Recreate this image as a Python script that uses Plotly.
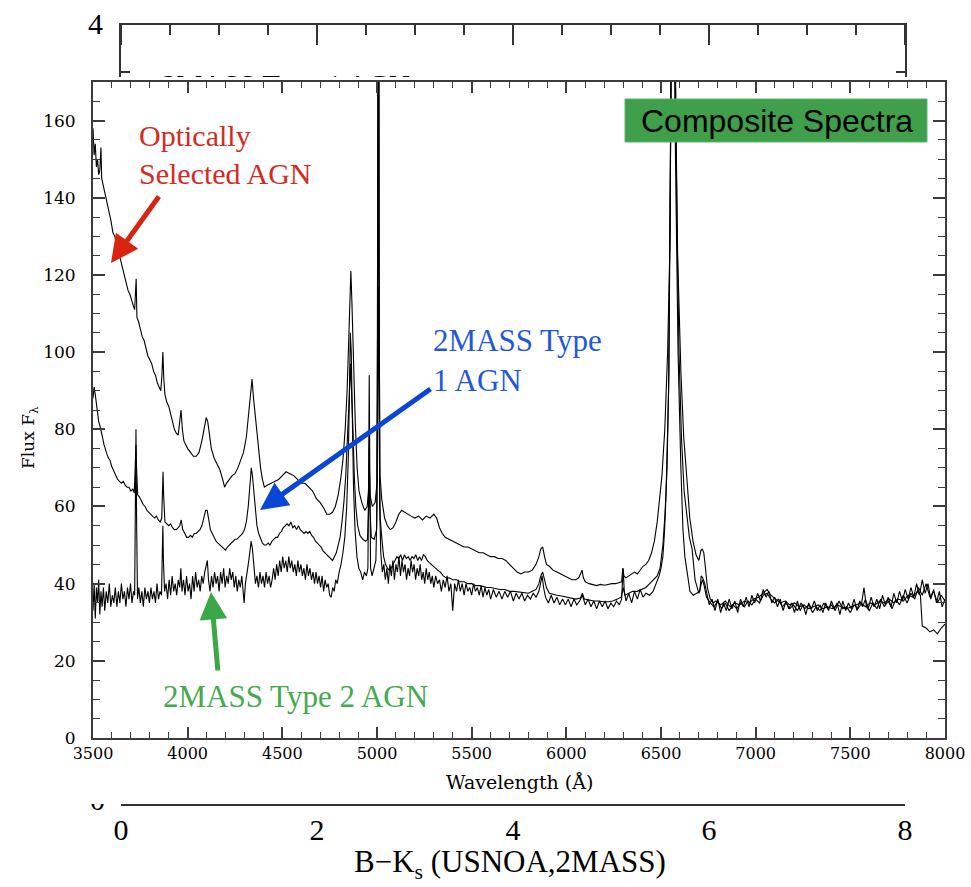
import plotly.graph_objects as go

# ---------------- data ----------------
qso_points = [
    (3500,158),(3506,151),(3512,154),(3518,148),(3524,150),(3530,146),(3536,147),(3542,153),(3546,145),
    (3555,143),(3565,141),(3575,139),(3585,136),(3595,134),(3605,131),(3615,130),(3625,128),(3635,126),
    (3645,124),(3655,122),(3665,120),(3675,118),(3685,116),(3695,115),(3705,113),(3713,112),(3720,111),
    (3724,118),(3728,119),(3732,109),(3740,108),(3750,106),(3760,104),(3770,103),(3780,101),(3790,99),
    (3800,98),(3810,97),(3820,95),(3830,94),(3840,92),(3850,91),(3858,90),(3864,94),(3869,100),(3874,93),
    (3880,89),(3890,87),(3900,86),(3910,84),(3920,82),(3930,80),(3940,79),(3950,78.5),(3958,82),(3965,85),
    (3972,80),(3980,77),(3990,76),(4000,75),(4015,74),(4030,73),(4045,73),(4060,74),(4075,77),(4088,80),
    (4098,83),(4106,82),(4115,78),(4125,75),(4140,72.5),(4155,71),(4170,69.5),(4185,67),(4195,65),(4205,66),
    (4220,67),(4235,68),(4250,68.5),(4265,70),(4280,72),(4295,74),(4310,78),(4322,84),(4332,90),(4340,93),
    (4348,88),(4356,84),(4365,78),(4375,73),(4385,70),(4395,67),(4405,65),(4420,65.5),(4440,66),(4460,66.5),
    (4480,67),(4500,68),(4520,69),(4540,68.5),(4560,68),(4580,67),(4600,66),(4620,66),(4640,65),(4660,64),
    (4680,62),(4700,61),(4720,59.5),(4735,58),(4750,58),(4765,58.5),(4780,60),(4795,63),(4808,67),(4820,72),
    (4832,80),(4842,90),(4850,102),(4856,112),(4862,121),(4868,112),(4875,98),(4885,82),(4895,70),(4905,64),
    (4920,61),(4935,59),(4948,60),(4955,64),(4959,72),(4963,63),(4975,60),(4990,61),(5000,66),(5004,120),
    (5007,300),(5010,120),(5016,68),(5025,62),(5040,57),(5055,55),(5070,54),(5085,54.5),(5100,56),(5115,58),
    (5130,59),(5145,58.5),(5160,58),(5180,57.5),(5200,57),(5220,57.5),(5240,56.5),(5260,57.5),(5280,57),
    (5300,58),(5315,57),(5330,54.5),(5345,53),(5360,52),(5380,51.5),(5400,51),(5420,50.5),(5440,50),
    (5460,49.5),(5480,49.5),(5500,49),(5520,48.5),(5540,48),(5560,48),(5580,47.5),(5600,47),(5620,47),
    (5640,46.5),(5660,46.5),(5680,46),(5700,45),(5720,44),(5740,43),(5760,42.5),(5780,43),(5800,43),
    (5820,43.5),(5840,45),(5855,47),(5865,49),(5875,49.5),(5885,47),(5895,45),(5910,44.5),(5930,43.5),
    (5950,43),(5970,42.5),(5990,42),(6010,41.5),(6030,41),(6050,41),(6065,41.5),(6075,42.5),(6083,43.5),
    (6090,41.5),(6100,40.5),(6120,40),(6140,39.8),(6160,39.5),(6180,39.8),(6200,39.6),(6220,39.8),(6240,40),
    (6260,40),(6280,40.2),(6292,40.5),(6298,44),(6304,42),(6315,41.5),(6330,42),(6345,42.5),(6360,43),
    (6375,42.5),(6390,43.5),(6405,44.5),(6420,45),(6435,46),(6450,48),(6465,51),(6480,56),(6495,63),
    (6505,68),(6520,80),(6535,100),(6548,130),(6558,175),(6566,290),(6575,175),(6588,125),(6605,95),
    (6620,78),(6637,67),(6652,57),(6669,51),(6685,47.5),(6700,46),(6710,48.5),(6718,49),(6726,48),(6735,44),
    (6745,39),(6760,36),(6775,35),(6790,35.5),(6815,34.5),(6840,35.5),(6865,34),(6890,35),(6915,34.5),
    (6940,35.5),(6965,35),(6990,36),(7015,36.5),(7040,37.5),(7060,38.5),(7080,37),(7105,36),(7130,35),
    (7155,35.5),(7180,34.5),(7205,35),(7230,34),(7255,34.5),(7280,33.5),(7305,34),(7330,34.5),(7355,33.5),
    (7380,34),(7405,33.5),(7430,34.5),(7455,34),(7480,33.5),(7505,34),(7530,34.5),(7555,35),(7580,34),
    (7605,35),(7630,34.5),(7655,35.5),(7680,35),(7705,36),(7730,35),(7755,36),(7780,35.5),(7805,37),
    (7830,36.5),(7855,38),(7870,37),(7880,29),(7900,28.5),(7920,27.5),(7940,28),(7960,27),(7980,28.5),
    (8000,29.5),
]

type1_points = [
    (3500,88),(3506,91),(3512,89),(3518,86),(3524,84),(3530,82),(3536,81),(3542,80),(3550,78),(3558,76),
    (3566,74.5),(3574,73.5),(3582,72.5),(3590,72),(3598,70.5),(3606,69.5),(3614,69),(3622,67.5),(3630,67),
    (3640,66.5),(3650,66),(3660,66.5),(3670,65.5),(3680,65),(3690,65),(3700,64),(3710,64.5),(3718,63.5),
    (3724,70),(3727,76),(3730,70),(3736,63),(3745,62.5),(3755,61.5),(3765,60.5),(3775,60),(3785,59),
    (3795,58.5),(3805,58),(3815,57.5),(3825,57),(3835,57.5),(3845,56.5),(3855,56),(3863,57),(3867,64),
    (3870,69),(3873,63),(3880,56),(3890,55.5),(3900,55),(3910,55.5),(3920,54.5),(3930,54),(3940,54),
    (3950,54.5),(3958,55),(3966,56.5),(3974,54),(3985,53),(3995,52),(4005,52),(4015,52.5),(4025,52),
    (4035,53),(4045,53),(4055,53.5),(4065,54),(4075,55),(4085,57),(4095,59),(4103,59),(4110,56.5),
    (4120,54),(4130,53),(4140,52),(4150,51),(4160,50.5),(4170,50),(4180,49.5),(4190,49),(4200,48.7),
    (4210,49.5),(4220,50),(4230,50.5),(4240,51),(4250,51.5),(4260,51.5),(4270,52),(4280,52.5),(4290,53),
    (4300,54),(4310,56),(4320,60),(4328,65),(4336,70),(4342,68),(4350,63),(4358,58),(4366,55),(4375,53),
    (4385,51.5),(4395,50.5),(4405,50),(4415,50),(4425,50.5),(4435,50),(4445,51),(4455,51.5),(4465,52),
    (4475,52),(4485,53),(4495,53.5),(4505,54.5),(4515,55),(4525,55.5),(4535,55),(4545,56),(4555,54.5),
    (4565,55),(4575,54),(4585,55),(4595,54),(4605,53.5),(4615,53),(4625,53.5),(4635,53),(4645,53.5),
    (4655,52.5),(4665,52),(4675,51),(4685,50.5),(4695,50),(4705,49.5),(4715,48.5),(4725,48),(4735,47.5),
    (4745,47),(4755,46.5),(4765,46),(4775,47),(4785,48),(4795,50),(4805,52),(4815,56),(4825,61),(4835,68),
    (4845,78),(4853,88),(4860,97),(4866,90),(4873,80),(4880,68),(4888,60),(4898,55),(4910,52.5),(4925,51.5),
    (4940,51),(4950,51.5),(4956,60),(4959,76),(4962,60),(4970,52),(4985,51.5),(4998,54),(5003,80),(5007,117),
    (5011,80),(5017,57),(5025,52),(5035,47),(5045,45),(5055,44),(5065,43.5),(5075,44),(5085,45),(5095,46),
    (5105,47),(5115,46.5),(5125,47.5),(5135,46),(5145,47.5),(5155,46.5),(5165,47),(5175,46),(5185,47),
    (5195,46.5),(5205,47.5),(5215,46),(5225,47),(5235,46),(5245,47.5),(5255,47),(5265,46),(5275,45.5),
    (5285,45),(5295,44.5),(5305,44),(5320,43.5),(5335,43),(5350,42),(5365,41.5),(5380,41.5),(5400,41),
    (5420,41),(5440,40.5),(5460,40.5),(5480,40),(5500,40),(5520,39.5),(5540,39.5),(5560,39.3),(5580,39),
    (5600,39),(5625,38.8),(5650,38.5),(5675,38.5),(5700,38),(5725,38),(5750,37.8),(5775,37.6),(5800,37.5),
    (5820,38),(5840,38.5),(5855,40),(5865,42),(5875,43),(5885,41),(5895,39),(5910,37.5),(5930,37.2),
    (5950,37),(5975,36.8),(6000,36.5),(6025,36.3),(6050,36),(6075,36.3),(6085,37.5),(6095,36),(6120,35.8),
    (6145,35.5),(6170,35.5),(6195,35.3),(6220,35.3),(6245,35.5),(6270,36),(6290,36.5),(6300,39),(6310,37),
    (6330,37.5),(6350,38),(6375,38),(6400,38.5),(6420,39),(6440,40),(6460,41),(6480,42),(6495,44),(6510,50),
    (6521,58),(6532,70),(6542,95),(6552,140),(6560,200),(6566,270),(6574,185),(6584,135),(6595,100),
    (6608,78),(6622,64),(6637,58),(6650,52),(6664,49),(6680,41),(6700,37.5),(6710,40),(6718,41),(6728,39.5),
    (6740,36.5),(6760,35),(6780,34),(6800,35.5),(6820,33.5),(6840,35),(6860,33),(6880,34.5),(6900,33.5),
    (6920,35),(6940,34),(6960,35.5),(6980,34.5),(7000,36),(7020,35),(7040,37),(7060,37.5),(7080,36),
    (7100,35),(7120,36),(7140,34),(7160,35),(7180,33.5),(7200,34.5),(7220,33),(7240,35),(7260,33.5),
    (7280,34.5),(7300,32.5),(7320,34),(7340,33),(7360,35),(7380,33.5),(7400,34.5),(7420,33),(7440,35.5),
    (7460,33.5),(7480,34),(7500,32.5),(7520,34.5),(7540,33.5),(7560,35),(7572,39),(7585,34),(7600,33),
    (7620,35),(7640,33.5),(7660,36),(7680,34),(7700,35.5),(7720,33.5),(7740,36),(7760,34.5),(7780,37),
    (7800,35),(7820,37.5),(7840,36),(7860,39),(7880,37),(7900,40),(7920,36.5),(7940,38),(7960,35),
    (7980,37),(8000,35.5),
]

type2_points = [
    (3500,33),(3506,40),(3512,31),(3518,39),(3524,35),(3530,41),(3536,32),(3542,38),(3548,34),(3555,39),
    (3562,33),(3570,38),(3578,35),(3586,40),(3594,34),(3602,37),(3610,35),(3618,39),(3626,34),(3634,38),
    (3642,35),(3650,40),(3658,36),(3666,38),(3674,34),(3682,39),(3690,36),(3698,40),(3706,35),(3714,38),
    (3720,37),(3724,60),(3727,80),(3730,58),(3735,36),(3742,39),(3750,35),(3758,38),(3766,34),(3774,39),
    (3782,36),(3790,38),(3798,35),(3806,39),(3814,36),(3822,38),(3830,35),(3838,40),(3846,36),(3854,38),
    (3862,37),(3866,48),(3869,55),(3872,46),(3878,38),(3886,40),(3894,36),(3902,41),(3910,37),(3918,42),
    (3926,38),(3934,40),(3942,37),(3950,41),(3958,39),(3964,44),(3970,38),(3978,41),(3986,37),(3994,42),
    (4002,38),(4010,40),(4018,36),(4026,42),(4034,38),(4042,43),(4050,39),(4058,41),(4066,38),(4074,42),
    (4082,40),(4090,43),(4098,45),(4104,46),(4110,41),(4118,38),(4126,42),(4134,39),(4142,43),(4150,40),
    (4158,42),(4166,38),(4174,43),(4182,40),(4190,44),(4198,39),(4206,42),(4214,40),(4222,44),(4230,41),
    (4238,43),(4246,39),(4254,42),(4262,38),(4270,41),(4278,39),(4286,42),(4292,37),(4298,35),(4305,40),
    (4312,42),(4320,45),(4328,48),(4335,51),(4342,49),(4350,44),(4358,40),(4366,42),(4374,39),(4382,43),
    (4390,40),(4398,42),(4406,39),(4414,43),(4422,40),(4430,42),(4438,39),(4446,41),(4454,44),(4462,41),
    (4470,45),(4478,42),(4486,46),(4494,43),(4502,47),(4510,44),(4518,46),(4526,43),(4534,47),(4542,44),
    (4550,46),(4558,43),(4566,45),(4574,42),(4582,46),(4590,43),(4598,45),(4606,42),(4614,44),(4622,41),
    (4630,45),(4638,42),(4646,44),(4654,41),(4662,43),(4670,40),(4678,43),(4686,40),(4694,42),(4702,39),
    (4710,42),(4718,38),(4726,41),(4734,39),(4742,40),(4750,37),(4758,36.5),(4766,39),(4774,38),(4782,41),
    (4790,40),(4800,43),(4810,45),(4820,48),(4830,52),(4840,60),(4848,72),(4854,88),(4859,105),(4864,100),
    (4869,80),(4876,65),(4884,54),(4894,47),(4904,44),(4914,43),(4924,41),(4934,43),(4944,42),(4952,44),
    (4956,70),(4959,94),(4962,70),(4966,44),(4974,42),(4984,44),(4994,46),(5000,60),(5004,150),(5007,320),
    (5010,150),(5014,60),(5020,48),(5028,43),(5036,45),(5044,41),(5052,44),(5060,40),(5068,45),(5076,42),
    (5084,46),(5092,41),(5100,45),(5108,43),(5116,47),(5124,42),(5132,46),(5140,43),(5148,45),(5156,41),
    (5164,44),(5172,42),(5180,46),(5188,43),(5196,45),(5204,41),(5212,44),(5220,42),(5228,45),(5236,41),
    (5244,43),(5252,40),(5260,44),(5268,41),(5276,43),(5284,40),(5292,42),(5300,39),(5310,42),(5320,40),
    (5330,41),(5340,38),(5350,41),(5360,39),(5370,42),(5380,38),(5390,40),(5400,33),(5410,40),(5420,38),
    (5430,41),(5440,38),(5450,40),(5460,37),(5470,40),(5480,38),(5490,39),(5500,37),(5510,40),(5520,38),
    (5530,39),(5540,37),(5550,39.5),(5560,36.5),(5570,39),(5580,37),(5590,38.5),(5600,36),(5615,38.5),
    (5630,36.5),(5645,38),(5660,36),(5675,38),(5690,36.5),(5705,38),(5720,35.5),(5735,37.5),(5750,36),
    (5765,37.5),(5780,35.5),(5795,37),(5810,36),(5825,37.5),(5840,36.5),(5855,38),(5865,40),(5872,42),
    (5880,39),(5890,36.5),(5905,35),(5920,37),(5935,35),(5950,36.5),(5965,34.5),(5980,36),(5995,34.5),
    (6010,36),(6025,34),(6040,36),(6055,34.5),(6070,35.5),(6085,37),(6100,34.5),(6115,36),(6130,34),
    (6145,35.5),(6160,33.5),(6175,35.5),(6190,34),(6205,35.5),(6220,33.5),(6235,35),(6250,34),(6265,35.5),
    (6280,34.5),(6292,36),(6300,44),(6306,38),(6315,35.5),(6330,37.5),(6345,35),(6360,38),(6375,36),
    (6390,38.5),(6405,36.5),(6420,37.5),(6440,37),(6458,38),(6475,40),(6490,42),(6500,44),(6510,47),
    (6518,53),(6526,62),(6540,90),(6552,140),(6563,230),(6574,160),(6590,100),(6605,70),(6616,54),(6626,47),
    (6637,43),(6653,38),(6670,37),(6690,37.5),(6705,38),(6712,42),(6720,41.5),(6731,40),(6742,37),
    (6755,34.5),(6770,36),(6785,33),(6800,36),(6815,32.5),(6830,35),(6845,33),(6860,36),(6875,33.5),
    (6890,35.5),(6905,32.5),(6920,36),(6935,34),(6950,36.5),(6965,34),(6980,37),(6995,35),(7010,37.5),
    (7025,35.5),(7040,38.5),(7055,36.5),(7070,38),(7085,35),(7100,36.5),(7115,34),(7130,36),(7145,33),
    (7160,35.5),(7175,33.5),(7190,35),(7205,32.5),(7220,35.5),(7235,33),(7250,34.5),(7265,32),(7280,35),
    (7295,33.5),(7310,35.5),(7325,33),(7340,34.5),(7355,32.5),(7370,35),(7385,33),(7400,35.5),(7415,33.5),
    (7430,35),(7445,32),(7460,35.5),(7475,33),(7490,35),(7505,33.5),(7520,36),(7535,33),(7550,35.5),
    (7565,34),(7580,36),(7595,33.5),(7610,36.5),(7625,34),(7640,36),(7655,33.5),(7670,37),(7685,34.5),
    (7700,36.5),(7715,34),(7730,37.5),(7745,35),(7760,38),(7775,35.5),(7790,38.5),(7805,36),(7820,39),
    (7835,36.5),(7850,40),(7865,37),(7880,41),(7895,37.5),(7910,40),(7925,36),(7940,38.5),(7955,35),
    (7970,38),(7985,34),(8000,36),
]

wave_ticks = [3500, 4000, 4500, 5000, 5500, 6000, 6500, 7000, 7500, 8000]
flux_ticks = [0, 20, 40, 60, 80, 100, 120, 140, 160]
bk_ticks = [0, 2, 4, 6, 8]

# ---------------- figure ----------------
W, H = 971, 887
def px(x):
    return x / W
def py(y):
    return 1 - y / H

AX = "#3c3c3c"
BG_AX = "#333333"
SERIF = "DejaVu Serif"
TIMES = "Liberation Serif"

fig = go.Figure()
for pts in (type2_points, type1_points, qso_points):
    fig.add_trace(go.Scatter(
        x=[p[0] for p in pts], y=[p[1] for p in pts], mode="lines",
        line=dict(color="black", width=1.1), xaxis="x", yaxis="y",
        showlegend=False, hoverinfo="skip"))

# empty traces so that the axes of the chart underneath are drawn
for xa, ya in (("x2", "y2"), ("x3", "y3"), ("x6", "y6")):
    fig.add_trace(go.Scatter(x=[None], y=[None], mode="lines", xaxis=xa, yaxis=ya,
                             showlegend=False, hoverinfo="skip"))

# clipped partial texts from the chart underneath
fig.add_trace(go.Scatter(x=[0.04], y=[-0.66], mode="text", text=["2MASS Type 1 AGN"],
                         textposition="middle right", cliponaxis=True,
                         textfont=dict(family=TIMES, size=29, color="black"),
                         xaxis="x5", yaxis="y5", showlegend=False, hoverinfo="skip"))
fig.add_trace(go.Scatter(x=[0.5], y=[1.058], mode="text", text=["0"],
                         textposition="middle center", cliponaxis=True,
                         textfont=dict(family=TIMES, size=30, color="black"),
                         xaxis="x4", yaxis="y4", showlegend=False, hoverinfo="skip"))

fig.update_layout(
    width=W, height=H, margin=dict(l=0, r=0, t=0, b=0, pad=0, autoexpand=False),
    paper_bgcolor="white", plot_bgcolor="white", showlegend=False,
    xaxis=dict(domain=[px(93), px(945)], range=[3500, 8000], anchor="y", automargin=False,
               tickvals=wave_ticks, ticks="inside", ticklen=11, tickwidth=1.5, tickcolor=AX,
               minor=dict(dtick=100, tick0=3500, ticklen=6, tickwidth=1, tickcolor=AX, ticks="inside"),
               showline=True, linecolor=AX, linewidth=2, mirror="ticks",
               showgrid=False, zeroline=False,
               tickfont=dict(family=SERIF, size=16, color="black")),
    yaxis=dict(domain=[py(738), py(82)], range=[0, 170], anchor="x", automargin=False,
               tickvals=flux_ticks, ticks="inside", ticklen=12, tickwidth=1.5, tickcolor=AX,
               minor=dict(dtick=5, tick0=0, ticklen=7, tickwidth=1, tickcolor=AX, ticks="inside"),
               showline=True, linecolor=AX, linewidth=2, mirror="ticks",
               showgrid=False, zeroline=False, ticklabelstandoff=12,
               tickfont=dict(family=SERIF, size=17, color="black")),
    # bottom axis of the chart underneath
    xaxis2=dict(domain=[px(121), px(905)], range=[0, 8], anchor="y2", automargin=False,
                tickvals=bk_ticks, ticks="", showline=True, linecolor=BG_AX, linewidth=2,
                showgrid=False, zeroline=False, ticklabelstandoff=-2,
                tickfont=dict(family=TIMES, size=30, color="black")),
    yaxis2=dict(domain=[py(804), py(790)], range=[0, 1], anchor="x2", visible=False, automargin=False),
    # side strips of the chart underneath (left/right frame, "4" label)
    xaxis3=dict(domain=[px(121), px(905)], range=[0, 8], anchor="y3", automargin=False,
                visible=False, showgrid=False, zeroline=False),
    yaxis3=dict(domain=[py(77), py(23)], range=[4 - 54 * 4 / 780, 4], anchor="x3", automargin=False,
                dtick=1, tick0=0, ticks="inside", ticklen=9, tickwidth=1.5, tickcolor=BG_AX,
                minor=dict(dtick=0.25, tick0=0, ticklen=9, tickwidth=1.5, tickcolor=BG_AX, ticks="inside"),
                showline=True, linecolor=BG_AX, linewidth=2, mirror="ticks",
                showgrid=False, zeroline=False, ticklabelstandoff=10,
                tickfont=dict(family=TIMES, size=30, color="black")),
    # top axis of the chart underneath (ticks pointing down)
    xaxis6=dict(domain=[px(121), px(905)], range=[0, 8], anchor="y6", automargin=False,
                dtick=2, tick0=0, ticks="outside", ticklen=20, tickwidth=1.5, tickcolor=BG_AX,
                minor=dict(dtick=0.5, tick0=0, ticklen=10, tickwidth=1.5, tickcolor=BG_AX, ticks="outside"),
                showticklabels=False, showline=True, linecolor=BG_AX, linewidth=2,
                showgrid=False, zeroline=False),
    yaxis6=dict(domain=[py(23), py(8)], range=[0, 1], anchor="x6", visible=False, automargin=False),
    xaxis4=dict(domain=[px(80), px(115)], range=[0, 1], anchor="y4", visible=False, automargin=False),
    yaxis4=dict(domain=[py(830), py(804)], range=[0, 1], anchor="x4", visible=False, automargin=False),
    xaxis5=dict(domain=[px(150), px(450)], range=[0, 1], anchor="y5", visible=False, automargin=False),
    yaxis5=dict(domain=[py(77), py(60)], range=[0, 1], anchor="x5", visible=False, automargin=False),
)

ann = []
def label(text, x, y, size, color, family=TIMES, xanchor="left", angle=0):
    ann.append(dict(text=text, x=px(x), y=py(y), xref="paper", yref="paper",
                    xanchor=xanchor, yanchor="middle", showarrow=False, textangle=angle,
                    font=dict(family=family, size=size, color=color)))

def arrow(tip, tail, color):
    ann.append(dict(text="", x=px(tip[0]), y=py(tip[1]), xref="paper", yref="paper",
                    ax=tail[0] - tip[0], ay=tail[1] - tip[1], showarrow=True,
                    arrowhead=2, arrowsize=1.1, arrowwidth=5, arrowcolor=color))

RED, BLUE, GREEN = "#d42a1f", "#1f59d8", "#45a94f"
label("Wavelength (Å)", 519, 782, 19, "black", SERIF, "center")
label("Flux F<sub>λ</sub>", 30, 438, 17, "black", SERIF, "center", -90)
label("B−K<sub>s</sub> (USNOA,2MASS)", 510, 864, 31, "black", TIMES, "center")
label("Optically", 137, 136, 30, RED)
label("Selected AGN", 137, 173, 30, RED)
label("2MASS Type", 431, 340, 31, BLUE)
label("1 AGN", 431, 380, 31, BLUE)
label("2MASS Type 2 AGN", 161, 696, 31, GREEN)
label("Composite Spectra", 777, 121, 32, "black", "Liberation Sans", "center")
arrow((111, 263), (160, 195), "#d8240f")
arrow((260, 510), (432, 388), "#0a46d6")
arrow((211, 592), (218, 672), "#3aa845")
fig.update_layout(annotations=ann)

fig.add_shape(type="rect", xref="paper", yref="paper", x0=px(625), x1=px(927), y0=py(142), y1=py(99),
              fillcolor="#3f9f4a", line=dict(color="#5bb565", width=1), layer="above")

fig.write_html("out.html")
